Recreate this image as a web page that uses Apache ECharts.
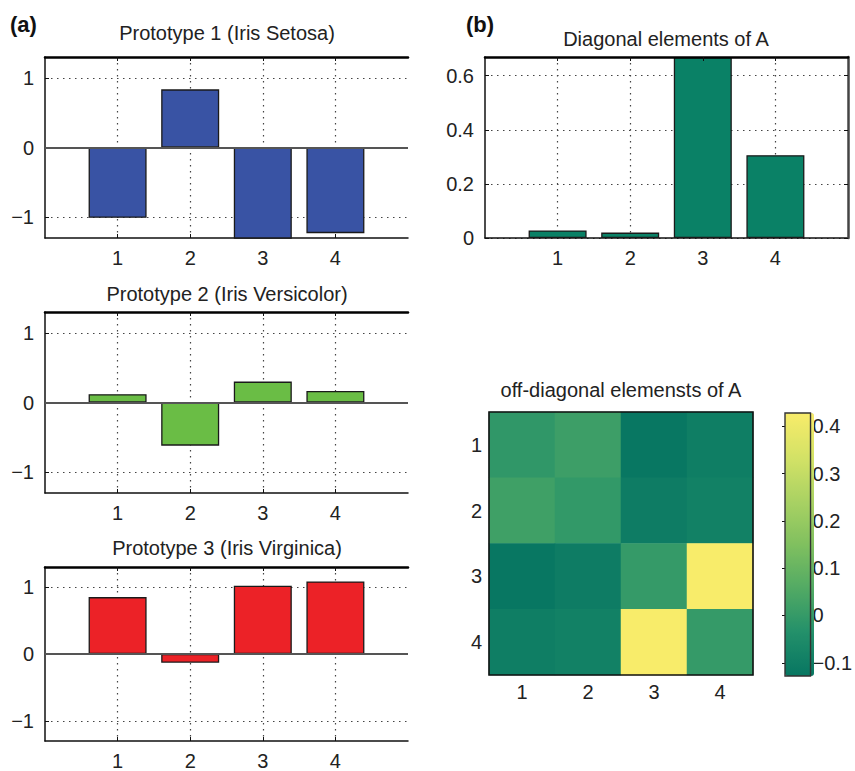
<!DOCTYPE html>
<html>
<head>
<meta charset="utf-8">
<script src="https://cdn.jsdelivr.net/npm/echarts@6/dist/echarts.min.js"></script>
<style>
  html, body { margin: 0; padding: 0; background: #fff; }
  #chart { width: 855px; height: 771px; }
</style>
</head>
<body>
<div id="chart"></div>
<script>
// data
const ticks = ['1', '2', '3', '4'];
const setosa = [-1.01, 0.835, -1.40, -1.23];
const versicolor = [0.12, -0.62, 0.30, 0.165];
const virginica = [0.85, -0.13, 1.02, 1.085];
const diagA = [0.028, 0.02, 0.669, 0.306];
// off-diagonal matrix, rows top -> bottom
const offDiagA = [
  [-0.01, 0.015, -0.125, -0.10],
  [0.02, -0.005, -0.105, -0.09],
  [-0.125, -0.105, 0.0, 0.428],
  [-0.10, -0.09, 0.428, 0.0]
];
const protoTicks = [-1, 0, 1];
const diagTicks = [0, 0.2, 0.4, 0.6];
const cbTicks = [-0.1, 0, 0.1, 0.2, 0.3, 0.4];

const FONT = 'Liberation Sans, Arial, sans-serif';
const INK = '#222';
const FS = 20;
const minus = v => String(v).replace('-', '\u2212');
const pos = ticks.map(Number);

const chart = echarts.init(document.getElementById('chart'), null, { renderer: 'svg' });

const grids = [];
const xAxes = [];
const yAxes = [];
const series = [];

const dotted = { show: true, lineStyle: { color: '#444', type: [1.5, 4.5], width: 1.2 } };

function barPanel(g, top, left, values, color, yMin, yMax, yTicks, rightEdge) {
  grids.push({ left: left, top: top, width: 363, height: 181 });
  const xi = xAxes.length;
  xAxes.push({
    gridIndex: g, type: 'value', min: 0, max: 5,
    axisLine: { show: true, onZero: false, lineStyle: { color: '#111', width: 1.5 } },
    axisTick: { inside: true, length: 4, customValues: pos, lineStyle: { color: '#111' } },
    axisLabel: { customValues: pos, margin: 10, color: INK, fontSize: FS, fontFamily: FONT },
    splitLine: dotted
  });
  // top edge of the box
  xAxes.push({
    gridIndex: g, type: 'value', min: 0, max: 5, position: 'top', z: 20,
    axisLine: { show: true, onZero: false, lineStyle: { color: '#000', width: 2.5 } },
    axisTick: { inside: true, length: 4, customValues: pos, lineStyle: { color: '#111' } },
    axisLabel: { show: false }, splitLine: { show: false }
  });
  const yi = yAxes.length;
  yAxes.push({
    gridIndex: g, type: 'value', min: yMin, max: yMax,
    axisLine: { show: true, onZero: false, lineStyle: { color: '#111', width: 1.5 } },
    axisTick: { inside: true, length: 4, customValues: yTicks, lineStyle: { color: '#111' } },
    axisLabel: { customValues: yTicks, margin: 11, color: INK, fontSize: FS, fontFamily: FONT, formatter: minus },
    splitLine: dotted
  });
  if (rightEdge) {
    yAxes.push({
      gridIndex: g, type: 'value', min: yMin, max: yMax, position: 'right', z: 20,
      axisLine: { show: true, onZero: false, lineStyle: { color: '#444', width: 2.5 } },
      axisTick: { inside: true, length: 4, customValues: yTicks, lineStyle: { color: '#111' } },
      axisLabel: { show: false }, splitLine: { show: false }
    });
  }
  series.push({
    type: 'bar', xAxisIndex: xi, yAxisIndex: yi,
    data: values.map((v, i) => [pos[i], v]),
    barWidth: 58,
    itemStyle: { color: color, borderColor: '#1a1a1a', borderWidth: 1.3 },
    emphasis: { disabled: true },
    markLine: yMin < 0 ? {
      silent: true, symbol: 'none', label: { show: false },
      data: [{ yAxis: 0, lineStyle: { color: '#555', type: 'solid', width: 2 } }]
    } : undefined
  });
}

barPanel(0, 57, 45, setosa, '#3953a4', -1.3, 1.3, protoTicks, false);
barPanel(1, 312, 45, versicolor, '#6abd45', -1.3, 1.3, protoTicks, false);
barPanel(2, 567, 45, virginica, '#ec2227', -1.3, 1.3, protoTicks, false);
barPanel(3, 57, 485, diagA, '#0a8166', 0, 0.669, diagTicks, true);

// heatmap
const hg = grids.length;
grids.push({ left: 489, top: 412, width: 264, height: 263, show: true, borderColor: '#111', borderWidth: 1.6, backgroundColor: 'transparent', z: 10 });
const hx = xAxes.length;
xAxes.push({
  gridIndex: hg, type: 'category', data: ticks,
  axisLine: { show: false },
  axisTick: { inside: true, length: 4, alignWithLabel: true, lineStyle: { color: '#111' } },
  axisLabel: { margin: 7, color: INK, fontSize: FS, fontFamily: FONT },
  splitLine: { show: false }
});
const hy = yAxes.length;
yAxes.push({
  gridIndex: hg, type: 'category', data: ticks, inverse: true,
  axisLine: { show: false },
  axisTick: { inside: true, length: 4, alignWithLabel: true, lineStyle: { color: '#111' } },
  axisLabel: { margin: 7, color: INK, fontSize: FS, fontFamily: FONT },
  splitLine: { show: false }
});
const cells = [];
offDiagA.forEach((row, r) => row.forEach((v, c) => cells.push([c, r, v])));
const heatIndex = series.length;
series.push({
  type: 'heatmap', xAxisIndex: hx, yAxisIndex: hy, data: cells,
  itemStyle: { borderWidth: 0 }, emphasis: { disabled: true }, progressive: 0
});

// colorbar axis
const cg = grids.length;
grids.push({ left: 785, top: 413, width: 29, height: 263, show: true, borderColor: '#333', borderWidth: 1.4, backgroundColor: 'transparent', z: 10 });
xAxes.push({ gridIndex: cg, type: 'value', min: 0, max: 1, show: false });
yAxes.push({
  gridIndex: cg, type: 'value', min: -0.128, max: 0.428, position: 'right',
  axisLine: { show: false },
  axisTick: { inside: true, length: 3, customValues: cbTicks, lineStyle: { color: '#111' } },
  axisLabel: { customValues: cbTicks, margin: 2, color: INK, fontSize: FS, fontFamily: FONT, formatter: minus },
  splitLine: { show: false }
});
yAxes.push({
  gridIndex: cg, type: 'value', min: -0.128, max: 0.428, position: 'left',
  axisLine: { show: false },
  axisTick: { inside: true, length: 3, customValues: cbTicks, lineStyle: { color: '#111' } },
  axisLabel: { show: false }, splitLine: { show: false }
});

const titles = [
  ['Prototype 1 (Iris Setosa)', 227, 33],
  ['Prototype 2 (Iris Versicolor)', 227, 294],
  ['Prototype 3 (Iris Virginica)', 227, 548],
  ['Diagonal elements of A', 666, 39],
  ['off-diagonal elemensts of A', 621, 390]
];

chart.setOption({
  animation: false,
  backgroundColor: '#fff',
  grid: grids,
  xAxis: xAxes,
  yAxis: yAxes,
  visualMap: {
    type: 'continuous', seriesIndex: heatIndex,
    min: -0.128, max: 0.428,
    left: 785, top: 413, itemWidth: 29, itemHeight: 263, padding: 0,
    calculable: false, hoverLink: false, text: null, showLabel: false,
    inRange: { color: ['#077662', '#23906a', '#52aa64', '#80c05f', '#aad263', '#d4e266', '#f8ec6a'] }
  },
  graphic: titles.map(t => ({
    type: 'text', x: t[1], y: t[2],
    style: { text: t[0], align: 'center', verticalAlign: 'middle', fill: INK, font: FS + 'px ' + FONT }
  })).concat([
    { type: 'text', x: 10, y: 24, style: { text: '(a)', verticalAlign: 'middle', fill: '#111', font: 'bold 22px ' + FONT } },
    { type: 'text', x: 466, y: 24, style: { text: '(b)', verticalAlign: 'middle', fill: '#111', font: 'bold 22px ' + FONT } }
  ]),
  series: series
});
</script>
</body>
</html>
